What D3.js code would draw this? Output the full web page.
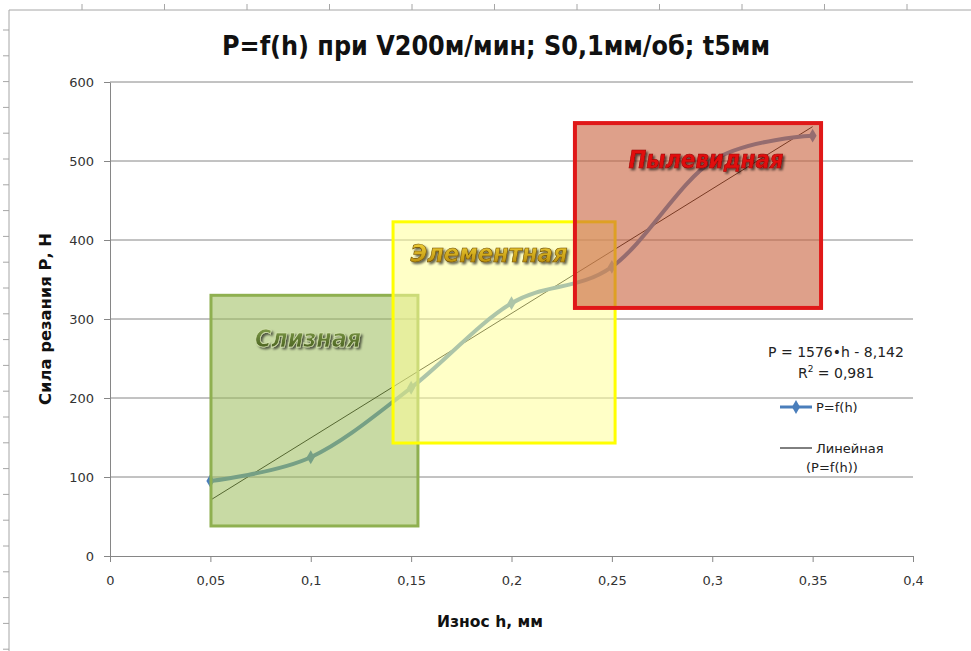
<!DOCTYPE html>
<meta charset="utf-8">
<script src="https://d3js.org/d3.v7.min.js"></script>
<style>
  body { margin: 0; background: #fff; }
  text { font-family: "DejaVu Sans", sans-serif; }
</style>
<div id="chart"></div>
<script>
// data
var wear = [0.05, 0.1, 0.15, 0.2, 0.25, 0.3, 0.35];
var force = [95, 125, 213, 320, 366, 500, 532];
var trendH = [0.05, 0.35];
var trendP = [70.7, 543.5];
var xTicks = [0, 0.05, 0.1, 0.15, 0.2, 0.25, 0.3, 0.35, 0.4];
var yTicks = [0, 100, 200, 300, 400, 500, 600];
var zoneNames = ["Слизная", "Элементная", "Пылевидная"];
var zoneH = [[0.0503, 0.1534], [0.141, 0.2516], [0.2316, 0.3542]];
var zoneP = [[38, 330], [143, 423], [314, 548]];

var W = 971, H = 651;
var svg = d3.select("#chart").append("svg")
    .attr("width", W).attr("height", H);

var x = d3.scaleLinear().domain([0, 0.4]).range([110, 913]);
var y = d3.scaleLinear().domain([0, 600]).range([556, 82]);
var comma = function(d) { return String(d).replace(".", ","); };

// spreadsheet frame behind the chart
var chrome = svg.append("g").attr("stroke", "#a6a6a6").attr("fill", "none");
chrome.append("path").attr("d", "M9,651V10H971");
for (var cx = 82; cx < W; cx += 82.5)
  chrome.append("line").attr("x1", cx).attr("x2", cx).attr("y1", 4).attr("y2", 10);
for (var cy = 30; cy < H; cy += 25.8)
  chrome.append("line").attr("x1", 3).attr("x2", 9).attr("y1", cy).attr("y2", cy);

var defs = svg.append("defs");
var sh = defs.append("filter").attr("id", "shadow")
    .attr("x", "-10%").attr("y", "-20%").attr("width", "130%").attr("height", "160%");
sh.append("feDropShadow").attr("dx", 2).attr("dy", 2).attr("stdDeviation", 0.9)
  .attr("flood-color", "#000").attr("flood-opacity", 0.6);
var gold = defs.append("linearGradient").attr("id", "gold")
    .attr("x1", 0).attr("y1", 0).attr("x2", 0).attr("y2", 1);
gold.append("stop").attr("offset", "0%").attr("stop-color", "#f8dc40");
gold.append("stop").attr("offset", "100%").attr("stop-color", "#b08000");
var olive = defs.append("linearGradient").attr("id", "olive")
    .attr("x1", 0).attr("y1", 0).attr("x2", 0).attr("y2", 1);
olive.append("stop").attr("offset", "0%").attr("stop-color", "#8aa850");
olive.append("stop").attr("offset", "100%").attr("stop-color", "#3e5418");

// gridlines
svg.append("g").selectAll("line")
  .data(yTicks.slice(1)).enter().append("line")
    .attr("x1", x(0)).attr("x2", x(0.4))
    .attr("y1", function(d) { return y(d); }).attr("y2", function(d) { return y(d); })
    .attr("stroke", "#868686");

// axes
var xAxis = svg.append("g").attr("transform", "translate(0," + y(0) + ")")
  .call(d3.axisBottom(x).tickValues(xTicks).tickFormat(comma).tickSize(6).tickSizeOuter(0).tickPadding(14));
var yAxis = svg.append("g").attr("transform", "translate(" + x(0) + ",0)")
  .call(d3.axisLeft(y).tickValues(yTicks).tickSize(6).tickSizeOuter(0).tickPadding(10));
[xAxis, yAxis].forEach(function(a) {
  a.select(".domain").attr("stroke", "#868686");
  a.selectAll(".tick line").attr("stroke", "#868686");
  a.selectAll(".tick text").attr("fill", "#333").style("font-size", "13px")
   .style("font-family", "DejaVu Sans");
});

// trend line
var pts = wear.map(function(d, i) { return [d, force[i]]; });
var tpts = trendH.map(function(d, i) { return [d, trendP[i]]; });
svg.append("path")
  .attr("d", d3.line().x(function(d) { return x(d[0]); }).y(function(d) { return y(d[1]); })(tpts))
  .attr("stroke", "#000").attr("stroke-width", 1).attr("fill", "none");

// smoothed data line
svg.append("path")
  .attr("d", d3.line().curve(d3.curveCatmullRom.alpha(0))
    .x(function(d) { return x(d[0]); }).y(function(d) { return y(d[1]); })(pts))
  .attr("stroke", "#4a7ebb").attr("stroke-width", 4).attr("fill", "none");
svg.append("g").selectAll("path")
  .data(pts).enter().append("path")
    .attr("d", d3.symbol(d3.symbolDiamond, 55))
    .attr("transform", function(d) { return "translate(" + x(d[0]) + "," + y(d[1]) + ")"; })
    .attr("fill", "#4a7ebb");

// trend equation
svg.append("text").attr("x", 836).attr("y", 357).attr("text-anchor", "middle")
  .style("font-size", "14px").attr("fill", "#222").text("P = 1576•h - 8,142");
var r2 = svg.append("text").attr("x", 836).attr("y", 378).attr("text-anchor", "middle")
  .style("font-size", "14px").attr("fill", "#222");
r2.append("tspan").text("R");
r2.append("tspan").attr("dy", -6).style("font-size", "9px").text("2");
r2.append("tspan").attr("dy", 6).text(" = 0,981");

// legend
svg.append("line").attr("x1", 780).attr("x2", 812).attr("y1", 407).attr("y2", 407)
  .attr("stroke", "#4a7ebb").attr("stroke-width", 3);
svg.append("path").attr("d", d3.symbol(d3.symbolDiamond, 55))
  .attr("transform", "translate(796,407)").attr("fill", "#4a7ebb");
svg.append("text").attr("x", 816).attr("y", 412).style("font-size", "13px")
  .attr("fill", "#222").text("P=f(h)");
svg.append("line").attr("x1", 780).attr("x2", 812).attr("y1", 448).attr("y2", 448)
  .attr("stroke", "#000").attr("stroke-width", 1);
svg.append("text").attr("x", 816).attr("y", 453).style("font-size", "13px")
  .attr("fill", "#222").text("Линейная");
svg.append("text").attr("x", 806).attr("y", 472).style("font-size", "13px")
  .attr("fill", "#222").text("(P=f(h))");

// zone overlays
var zoneFill = ["#9bbb59", "#ffff99", "#c8603c"];
var zoneOpacity = [0.55, 0.55, 0.6];
var zoneStroke = ["#8fb050", "#ffff00", "#e01818"];
var zoneStrokeW = [3, 3, 4];
svg.append("g").selectAll("rect")
  .data(zoneNames).enter().append("rect")
    .attr("x", function(d, i) { return x(zoneH[i][0]); })
    .attr("y", function(d, i) { return y(zoneP[i][1]); })
    .attr("width", function(d, i) { return x(zoneH[i][1]) - x(zoneH[i][0]); })
    .attr("height", function(d, i) { return y(zoneP[i][0]) - y(zoneP[i][1]); })
    .attr("fill", function(d, i) { return zoneFill[i]; })
    .attr("fill-opacity", function(d, i) { return zoneOpacity[i]; })
    .attr("stroke", function(d, i) { return zoneStroke[i]; })
    .attr("stroke-width", function(d, i) { return zoneStrokeW[i]; });

// zone labels (WordArt style)
var labelX = [308, 489, 706];
var labelY = [347, 262, 168];
var labelW = [106, 157, 155];
var labelFill = ["url(#olive)", "url(#gold)", "#e21010"];
var labelStroke = ["#dce8b8", "#6a4a00", "#900000"];
svg.append("g").selectAll("text")
  .data(zoneNames).enter().append("text")
    .attr("x", function(d, i) { return labelX[i]; })
    .attr("y", function(d, i) { return labelY[i]; })
    .attr("text-anchor", "middle")
    .attr("textLength", function(d, i) { return labelW[i]; })
    .attr("lengthAdjust", "spacingAndGlyphs")
    .style("font-size", "25px").style("font-weight", "bold").style("font-style", "italic")
    .attr("fill", function(d, i) { return labelFill[i]; })
    .attr("stroke", function(d, i) { return labelStroke[i]; })
    .attr("stroke-width", 0.6)
    .attr("filter", "url(#shadow)")
    .text(function(d) { return d; });

// titles
svg.append("text").attr("x", 496).attr("y", 55).attr("text-anchor", "middle")
  .attr("textLength", 548).attr("lengthAdjust", "spacingAndGlyphs")
  .style("font-size", "26px").style("font-weight", "bold").attr("fill", "#111")
  .text("P=f(h) при V200м/мин; S0,1мм/об; t5мм");
svg.append("text").attr("x", 490).attr("y", 627).attr("text-anchor", "middle")
  .attr("textLength", 106).attr("lengthAdjust", "spacingAndGlyphs")
  .style("font-size", "15px").style("font-weight", "bold").attr("fill", "#111")
  .text("Износ h, мм");
svg.append("text").attr("transform", "translate(51,319) rotate(-90)")
  .attr("text-anchor", "middle")
  .attr("textLength", 172).attr("lengthAdjust", "spacingAndGlyphs")
  .style("font-size", "15px").style("font-weight", "bold").attr("fill", "#111")
  .text("Сила резания Р, Н");
</script>
